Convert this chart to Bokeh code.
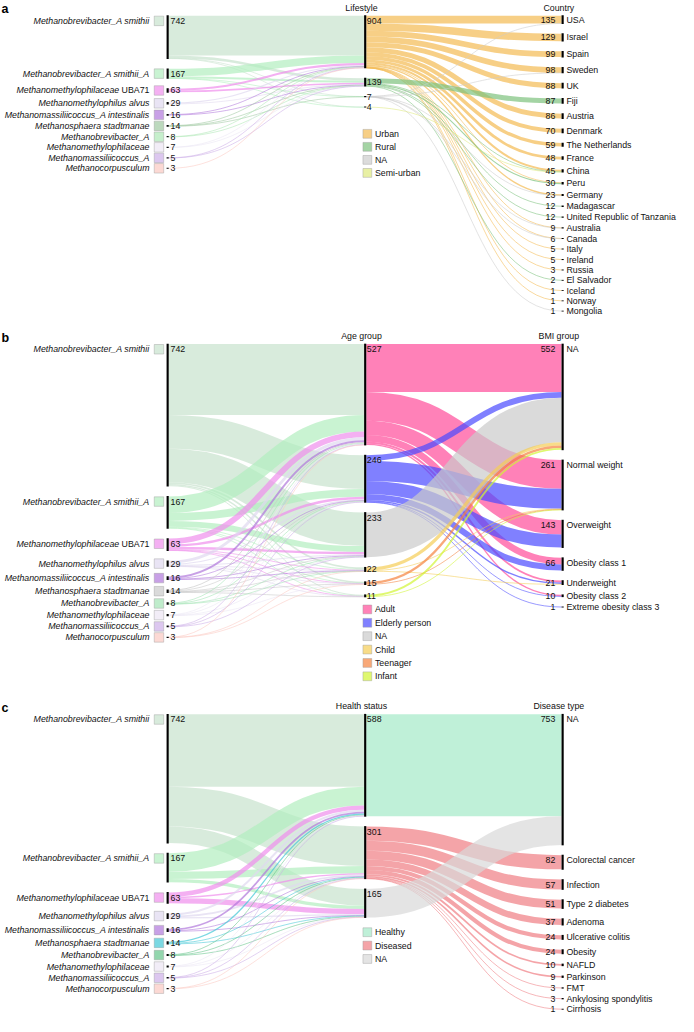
from bokeh.plotting import figure
from bokeh.models import Range1d, ColumnDataSource
from bokeh.core.properties import value
from bokeh.embed import file_html
from bokeh.resources import INLINE

# ---------------- data ----------------
species = ["Methanobrevibacter_A smithii", "Methanobrevibacter_A smithii_A",
           "Methanomethylophilaceae UBA71", "Methanomethylophilus alvus",
           "Methanomassiliicoccus_A intestinalis", "Methanosphaera stadtmanae",
           "Methanobrevibacter_A", "Methanomethylophilaceae",
           "Methanomassiliicoccus_A", "Methanocorpusculum"]
species_counts = [742, 167, 63, 29, 16, 14, 8, 7, 5, 3]

# panel a
lifestyle = ["Urban", "Rural", "NA", "Semi-urban"]
lifestyle_counts = [904, 139, 7, 4]
countries = ["USA", "Israel", "Spain", "Sweden", "UK", "Fiji", "Austria", "Denmark",
             "The Netherlands", "France", "China", "Peru", "Germany", "Madagascar",
             "United Republic of Tanzania", "Australia", "Canada", "Italy", "Ireland",
             "Russia", "El Salvador", "Iceland", "Norway", "Mongolia"]
country_counts = [135, 129, 99, 98, 88, 87, 86, 70, 59, 48, 45, 30, 23, 12, 12, 9, 6, 5, 5, 3, 2, 1, 1, 1]
species_to_lifestyle = [
    [690, 44, 5, 3], [130, 35, 1, 1], [35, 28, 0, 0], [20, 9, 0, 0], [8, 8, 0, 0],
    [6, 7, 1, 0], [5, 3, 0, 0], [4, 3, 0, 0], [3, 2, 0, 0], [3, 0, 0, 0]]
urban_to_country = [133, 129, 99, 97, 88, 0, 86, 70, 59, 48, 35, 10, 22, 0, 0, 8, 5, 5, 5, 3, 0, 1, 1, 0]
rural_to_country = [0, 0, 0, 0, 0, 87, 0, 0, 0, 0, 6, 20, 0, 12, 12, 0, 0, 0, 0, 0, 2, 0, 0, 0]
na_life_to_country = [2, 0, 0, 1, 0, 0, 0, 0, 0, 0, 0, 0, 1, 0, 0, 1, 1, 0, 0, 0, 0, 0, 0, 1]
semi_to_country = [0, 0, 0, 0, 0, 0, 0, 0, 0, 0, 4, 0, 0, 0, 0, 0, 0, 0, 0, 0, 0, 0, 0, 0]

# panel b
age_groups = ["Adult", "Elderly person", "NA", "Child", "Teenager", "Infant"]
age_counts = [527, 246, 233, 22, 15, 11]
bmi_groups = ["NA", "Normal weight", "Overweight", "Obesity class 1", "Underweight",
              "Obesity class 2", "Extreme obesity class 3"]
bmi_counts = [552, 261, 143, 66, 21, 10, 1]
species_to_age = [
    [370, 176, 175, 9, 7, 5], [87, 41, 31, 4, 2, 2], [30, 13, 13, 4, 1, 2], [15, 6, 5, 1, 1, 1],
    [10, 2, 3, 1, 0, 0], [5, 2, 3, 1, 2, 1], [4, 2, 1, 1, 0, 0], [3, 2, 1, 0, 1, 0],
    [2, 2, 1, 0, 0, 0], [1, 0, 0, 1, 1, 0]]
age_to_bmi = [
    [250, 150, 75, 35, 10, 7, 0], [30, 105, 68, 31, 8, 3, 1], [233, 0, 0, 0, 0, 0, 0],
    [17, 2, 0, 0, 3, 0, 0], [12, 3, 0, 0, 0, 0, 0], [10, 1, 0, 0, 0, 0, 0]]

# panel c
health_status = ["Healthy", "Diseased", "NA"]
health_counts = [588, 301, 165]
disease_types = ["NA", "Colorectal cancer", "Infection", "Type 2 diabetes", "Adenoma",
                 "Ulcerative colitis", "Obesity", "NAFLD", "Parkinson", "FMT",
                 "Ankylosing spondylitis", "Cirrhosis"]
disease_counts = [753, 82, 57, 51, 37, 24, 24, 10, 9, 3, 3, 1]
species_to_health = [
    [418, 228, 96], [107, 41, 19], [25, 8, 30], [12, 10, 7], [10, 3, 3],
    [7, 4, 3], [4, 2, 2], [3, 2, 2], [2, 2, 1], [0, 1, 2]]
healthy_to_disease = [588, 0, 0, 0, 0, 0, 0, 0, 0, 0, 0, 0]
diseased_to_disease = [0, 82, 57, 51, 37, 24, 24, 10, 9, 3, 3, 1]
na_health_to_disease = [165, 0, 0, 0, 0, 0, 0, 0, 0, 0, 0, 0]

# ---------------- style ----------------
FONT = "Liberation Sans"
W, H = 678, 1016
XR = 694.0
Y_TOP, Y_BOT = -0.5, 1036.0
SY = H / (Y_BOT - Y_TOP)
FS = "8.8px"
TXT = "#111111"
ALPHA = 0.7

sp_col_a = ["#d8ebdc", "#c9f3d2", "#f4b0f2", "#e9e4f4", "#c8a0e6", "#bcd9bd", "#c6efcc", "#f2edf7", "#dcc7ef", "#fcd9d4"]
sp_col_b = ["#d8ebdc", "#c9f3d2", "#f4b0f2", "#e9e4f4", "#c8a0e6", "#dadada", "#bfeccb", "#f2edf7", "#dcc7ef", "#fcd9d4"]
sp_col_c = ["#d8ebdc", "#c9f3d2", "#f4b0f2", "#e9e4f4", "#c8a0e6", "#7bd8e2", "#93d6ad", "#f2edf7", "#dcc7ef", "#fcd9d4"]
life_col = ["#f7cf86", "#a4d4a4", "#dcdcdc", "#e8f0a4"]
age_col = ["#ff82b8", "#8080ff", "#dadada", "#f8dc88", "#f8a878", "#dff870"]
health_col = ["#bff0d8", "#f4a4a8", "#e4e4e4"]

X_SP = (170.0, 172.2)
X_MID = (372.2, 374.4)
X_RT = (574.3, 576.5)


def base_color(hexcol, a):
    h = hexcol.lstrip('#')
    rgb = [int(h[k:k + 2], 16) for k in (0, 2, 4)]
    out = [max(0, min(255, round(255 - (255 - c) / a))) for c in rgb]
    return "#%02x%02x%02x" % tuple(out)


p = figure(width=W, height=H, x_range=Range1d(0, XR), y_range=Range1d(Y_BOT, Y_TOP),
           x_axis_type=None, y_axis_type=None, output_backend="svg",
           toolbar_location=None, min_border=0, outline_line_color=None)
p.background_fill_color = "white"
p.border_fill_color = "white"


def txt(xs, ys, texts, align="left", baseline="middle", size=FS, style="normal", color=TXT):
    src = ColumnDataSource(dict(x=list(xs), y=list(ys), t=list(texts)))
    p.text(x="x", y="y", text="t", source=src, text_font=value(FONT),
           text_font_size=value(size), text_font_style=value(style),
           text_align=value(align), text_baseline=value(baseline), text_color=color)


def node_tops(counts, top, s, gap):
    ys, cur = [], top
    for v in counts:
        ys.append(cur)
        cur += v * s + gap
    return ys


def label_y(tops, counts, s):
    return [t + min(v * s / 2.0, 5.3) for t, v in zip(tops, counts)]


def draw_links(M, src_tops, tgt_tops, s, xa, xb, colors):
    out_off = [0.0] * len(src_tops)
    in_off = [0.0] * len(tgt_tops)
    d = dict(x0=[], y0=[], x1=[], y1=[], cx0=[], cy0=[], cx1=[], cy1=[], w=[], c=[])
    xm = (xa + xb) / 2.0
    for i, row in enumerate(M):
        for j, v in enumerate(row):
            if v <= 0:
                continue
            ys = src_tops[i] + (out_off[i] + v / 2.0) * s
            yt = tgt_tops[j] + (in_off[j] + v / 2.0) * s
            out_off[i] += v
            in_off[j] += v
            d["x0"].append(xa); d["y0"].append(ys)
            d["x1"].append(xb); d["y1"].append(yt)
            d["cx0"].append(xm); d["cy0"].append(ys)
            d["cx1"].append(xm); d["cy1"].append(yt)
            d["w"].append(max(v * s * SY, 0.8))
            d["c"].append(base_color(colors[i], ALPHA))
    src = ColumnDataSource(d)
    p.bezier(x0="x0", y0="y0", x1="x1", y1="y1", cx0="cx0", cy0="cy0", cx1="cx1", cy1="cy1",
             line_width="w", line_color="c", line_alpha=ALPHA, line_cap="butt", source=src)


def draw_bars(tops, counts, s, xr):
    p.quad(left=[xr[0]] * len(tops), right=[xr[1]] * len(tops),
           top=[t - 0.4 for t in tops], bottom=[t + v * s + 0.4 for t, v in zip(tops, counts)],
           fill_color="black", line_color=None)


def squares(xc, ys, colors, size):
    p.rect(x=[xc] * len(ys), y=ys, width=size, height=size, fill_color=colors,
           line_color="#9a9a9a", line_alpha=0.6, line_width=0.7)


CHARW = {"U": 0.722, "B": 0.667, "A": 0.667, "7": 0.556, "1": 0.556, " ": 0.278}


def draw_panel(letter, letter_y, top, s, gap, sp_colors, mid_counts, mid_names, mid_colors,
               rt_counts, rt_names, M1, M2, mid_header, rt_header, leg_y, leg_step):
    sp_tops = node_tops(species_counts, top, s, gap)
    mid_tops = node_tops(mid_counts, top, s, gap)
    rt_tops = node_tops(rt_counts, top, s, gap)
    draw_links(M1, sp_tops, mid_tops, s, X_SP[1], X_MID[0], sp_colors)
    draw_links(M2, mid_tops, rt_tops, s, X_MID[1], X_RT[0], mid_colors)
    draw_bars(sp_tops, species_counts, s, X_SP)
    draw_bars(mid_tops, mid_counts, s, X_MID)
    draw_bars(rt_tops, rt_counts, s, X_RT)

    sp_ly = label_y(sp_tops, species_counts, s)
    mid_ly = label_y(mid_tops, mid_counts, s)
    rt_ly = label_y(rt_tops, rt_counts, s)

    # species legend squares + names
    squares(162.2, sp_ly, sp_colors, 9.7)
    it_x, it_y, it_t, ro_x, ro_y, ro_t = [], [], [], [], [], []
    for name, y in zip(species, sp_ly):
        parts = name.rsplit(" ", 1)
        if len(parts) == 2 and parts[1].isupper():
            wdt = sum(CHARW.get(ch, 0.6) for ch in " " + parts[1]) * 9.0
            ro_x.append(152.5); ro_y.append(y); ro_t.append(parts[1])
            it_x.append(152.5 - wdt); it_y.append(y); it_t.append(parts[0])
        else:
            it_x.append(152.5); it_y.append(y); it_t.append(name)
    txt(it_x, it_y, it_t, align="right", style="italic")
    txt(ro_x, ro_y, ro_t, align="right")
    txt([X_SP[1] + 1.8] * len(sp_ly), sp_ly, [str(v) for v in species_counts])

    # middle values
    txt([X_MID[1] + 0.6] * len(mid_ly), mid_ly, [str(v) for v in mid_counts])
    # right values + names
    txt([X_RT[0] - 6.3] * len(rt_ly), rt_ly, [str(v) for v in rt_counts], align="right")
    txt([X_RT[1] + 2.8] * len(rt_ly), rt_ly, rt_names)

    # headers
    txt([369.5], [top - 8.0], [mid_header], align="center")
    txt([571.5], [top - 8.0], [rt_header], align="center")
    txt([1.0], [letter_y], [letter], baseline="alphabetic", size="12.5px", style="bold", color="#000000")

    # legend
    ly = [leg_y + k * leg_step for k in range(len(mid_names))]
    squares(375.5, ly, mid_colors, 9.0)
    txt([383.3] * len(ly), ly, mid_names)


draw_panel("a", 8.0, 15.0, 0.059, 10.4, sp_col_a, lifestyle_counts, lifestyle, life_col,
           country_counts, countries, species_to_lifestyle,
           [urban_to_country, rural_to_country, na_life_to_country, semi_to_country],
           "Lifestyle", "Country", 135.5, 13.3)
draw_panel("b", 344.0, 350.0, 0.1954, 10.4, sp_col_b, age_counts, age_groups, age_col,
           bmi_counts, bmi_groups, species_to_age, age_to_bmi,
           "Age group", "BMI group", 620.7, 13.65)
draw_panel("c", 721.7, 727.7, 0.177, 10.4, sp_col_c, health_counts, health_status, health_col,
           disease_counts, disease_types, species_to_health,
           [healthy_to_disease, diseased_to_disease, na_health_to_disease],
           "Health status", "Disease type", 950.0, 13.65)

open("out.html", "w").write(file_html(p, INLINE))
